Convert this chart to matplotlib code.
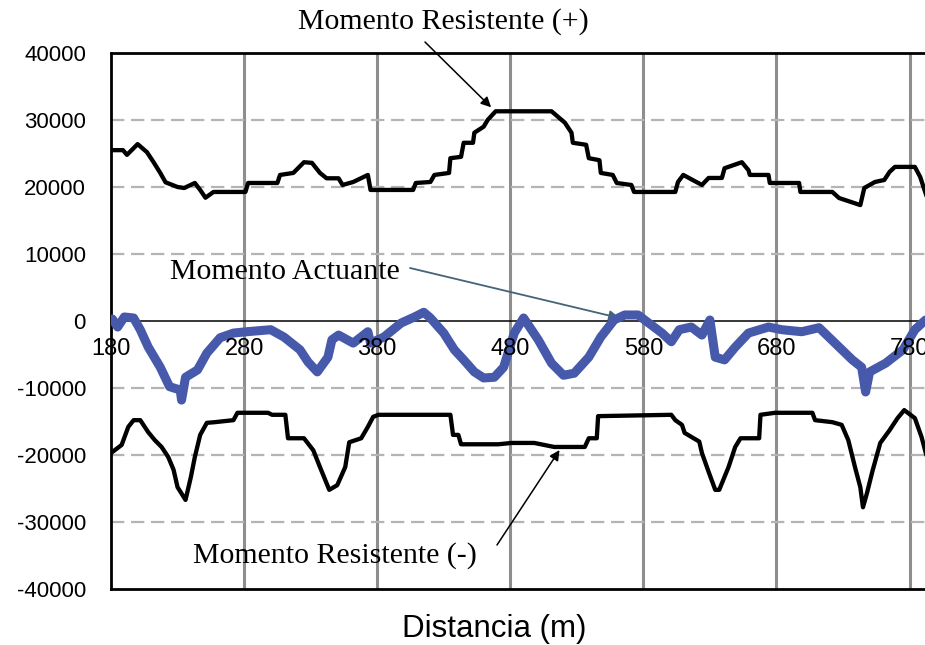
import matplotlib
matplotlib.use("Agg")
import matplotlib.pyplot as plt

# Momento Resistente (+)
x_pos = [181, 189, 192, 200, 207, 212, 217, 221, 230, 235, 243, 247, 251, 257,
         281, 283, 305, 307, 317, 325, 331, 337, 342, 351, 354, 362, 373, 375,
         407, 409, 420, 423, 434, 435, 443, 445, 452, 453, 460, 463, 469, 511,
         521, 526, 527, 537, 539, 547, 548, 557, 560, 571, 573, 604, 606, 610,
         624, 629, 639, 641, 654, 659, 660, 674, 675, 697, 698, 722, 727, 743,
         746, 754, 761, 765, 769, 784, 788, 793]
m_pos = [25500, 25500, 24800, 26400, 25200, 23700, 22100, 20700, 20000, 19850,
         20600, 19560, 18400, 19260, 19260, 20600, 20600, 21800, 22100, 23700,
         23600, 22100, 21300, 21300, 20300, 20750, 21800, 19560, 19560, 20600,
         20750, 21800, 22100, 24300, 24500, 26600, 26600, 28100, 29000, 30000,
         31300, 31300, 29600, 28100, 26600, 26300, 24300, 24000, 22100, 21800,
         20600, 20300, 19260, 19260, 20750, 21800, 20300, 21350, 21350, 22800,
         23700, 22500, 21800, 21800, 20600, 20600, 19260, 19260, 18360, 17300,
         19850, 20750, 21050, 22250, 23000, 23000, 21500, 18500]

# Momento Actuante
x_act = [181, 185, 190, 197, 202, 208, 217, 224, 232, 233, 236, 245, 252, 262,
         272, 282, 300, 310, 322, 328, 335, 343, 346, 351, 362, 373, 375, 385,
         398, 408, 415, 420, 430, 438, 445, 453, 460, 468, 475, 483, 490, 501,
         511, 520, 528, 539, 548, 558, 566, 576, 584, 594, 601, 607, 616, 624,
         630, 634, 641, 649, 659, 674, 684, 699, 712, 724, 737, 744, 747, 750,
         762, 775, 784, 792]
m_act = [300, -900, 600, 450, -1300, -3900, -6900, -9800, -10300, -11800,
         -8400, -7300, -4800, -2500, -1800, -1600, -1300, -2400, -4300, -6100,
         -7600, -5400, -2800, -2100, -3300, -1600, -3300, -2400, -300, 600,
         1300, 450, -1800, -4300, -5800, -7600, -8500, -8400, -6900, -1800,
         450, -2800, -6300, -8100, -7800, -5400, -2400, 150, 900, 900, -300,
         -1800, -3100, -1300, -900, -2100, 150, -5400, -5800, -3900, -1800,
         -900, -1300, -1600, -1000, -3300, -5800, -6900, -10600, -7600, -6300,
         -4300, -1300, 150]

# Momento Resistente (-)
x_neg = [181, 188, 193, 197, 202, 208, 213, 218, 223, 227, 230, 236, 240, 243,
         247, 252, 258, 272, 275, 298, 301, 311, 313, 325, 332, 337, 344, 350,
         356, 359, 368, 373, 377, 381, 435, 437, 441, 443, 471, 481, 498, 513,
         536, 539, 545, 546, 601, 604, 609, 611, 622, 624, 629, 634, 637, 644,
         649, 653, 667, 668, 679, 707, 709, 722, 729, 734, 739, 743, 745, 748,
         752, 758, 765, 771, 776, 784, 789, 793]
m_neg = [-19550, -18500, -15800, -14800, -14800, -16600, -17800, -18800,
         -20300, -22200, -24800, -26700, -23300, -20300, -17000, -15200,
         -15100, -14800, -13700, -13700, -14000, -14000, -17500, -17500,
         -19300, -21800, -25200, -24500, -21800, -18100, -17500, -15800,
         -14300, -14000, -14000, -17000, -17000, -18400, -18400, -18200,
         -18200, -18800, -18800, -17500, -17500, -14200, -14000, -14800,
         -15500, -16700, -18000, -19700, -22500, -25200, -25200, -21800,
         -18800, -17500, -17500, -14000, -13700, -13700, -14800, -15100,
         -15500, -17800, -21800, -24800, -27800, -25700, -22500, -18200,
         -16300, -14500, -13300, -14500, -17300, -20300]

x_ticks = [180, 280, 380, 480, 580, 680, 780]
y_ticks = [-40000, -30000, -20000, -10000, 0, 10000, 20000, 30000, 40000]

W, H = 925, 645
fig = plt.figure(figsize=(W / 100, H / 100), dpi=100)
ax = fig.add_axes([111 / W, 1 - 589 / H, 1 - 111 / W + 0.002, (589 - 53) / H])

ax.set_xlim(180, 793)
ax.set_ylim(-40000, 40000)

# grid: solid grey verticals, dashed grey horizontals
for xv in x_ticks[1:]:
    ax.axvline(xv, color="#8e8e8e", lw=2.2, zorder=1)
for yv in y_ticks[1:-1]:
    if yv == 0:
        continue
    ax.axhline(yv, color="#b4b4b4", lw=1.6, dashes=(6, 3), zorder=1)
ax.axhline(0, color="black", lw=1.1, zorder=2)

ax.plot(x_pos, m_pos, color="black", lw=3.1, zorder=3)
ax.plot(x_neg, m_neg, color="black", lw=3.1, zorder=3)
ax.plot(x_act, m_act, color="#4659aa", lw=6.5, zorder=4,
        solid_joinstyle="round", solid_capstyle="round")

for side in ["left", "top", "bottom"]:
    ax.spines[side].set_linewidth(2.0)
    ax.spines[side].set_color("black")
ax.spines["right"].set_visible(False)

ax.set_xticks([])
ax.set_yticks(y_ticks)
ax.set_yticklabels([str(v) for v in y_ticks], fontsize=16,
                   family="Liberation Sans")
ax.tick_params(axis="y", length=0, pad=18)

# x labels sit on the zero line
for xv in x_ticks:
    ax.annotate(str(xv), xy=(xv, 0), xytext=(0, -12), textcoords="offset points",
                ha="center", va="top", fontsize=17, family="Liberation Sans",
                zorder=5)

fig.text(494 / W, 1 - 629 / H, "Distancia (m)", ha="center", va="center",
         fontsize=22.5, family="Liberation Sans")

# annotations
serif = "Liberation Serif"
fig.text(443 / W, 1 - 22 / H, "Momento Resistente (+)", ha="center",
         va="center", fontsize=21.5, family=serif)
ax.annotate("", xy=(465.6, 31900), xytext=(425, H - 42),
            textcoords="figure pixels",
            arrowprops=dict(arrowstyle="-|>", color="black", lw=1.1,
                            mutation_scale=15, shrinkA=0, shrinkB=0))

fig.text(285 / W, 1 - 272 / H, "Momento Actuante", ha="center", va="center",
         fontsize=21.5, family=serif)
ax.annotate("", xy=(562, 450), xytext=(410, H - 268),
            textcoords="figure pixels",
            arrowprops=dict(arrowstyle="-|>", color="#44647a", lw=1.3,
                            mutation_scale=15, shrinkA=0, shrinkB=0))

fig.text(335 / W, 1 - 556 / H, "Momento Resistente (-)", ha="center",
         va="center", fontsize=21.5, family=serif)
ax.annotate("", xy=(517, -19260), xytext=(497, H - 545),
            textcoords="figure pixels",
            arrowprops=dict(arrowstyle="-|>", color="black", lw=1.1,
                            mutation_scale=15, shrinkA=0, shrinkB=0))

fig.savefig("out.png", dpi=100)
